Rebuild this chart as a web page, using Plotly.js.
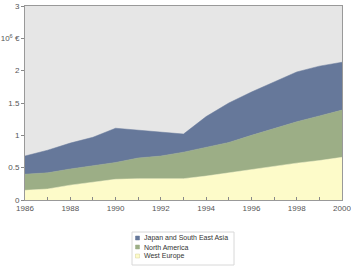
<!DOCTYPE html>
<html>
<head>
<meta charset="utf-8">
<script src="https://cdn.plot.ly/plotly-3.0.1.min.js"></script>
<style>
  html, body { margin: 0; padding: 0; background: #ffffff; }
  #chart { width: 351px; height: 267px; }
</style>
</head>
<body>
<div id="chart"></div>
<script>
// Market size by region, 1986-2000 (10^6 EUR), stacked
const years = [1986, 1987, 1988, 1989, 1990, 1991, 1992, 1993, 1994, 1995, 1996, 1997, 1998, 1999, 2000];
const westEurope   = [0.15, 0.17, 0.23, 0.27, 0.32, 0.33, 0.33, 0.33, 0.37, 0.42, 0.48, 0.52, 0.57, 0.61, 0.66];
const northAmerica = [0.25, 0.25, 0.25, 0.26, 0.26, 0.32, 0.35, 0.41, 0.44, 0.47, 0.52, 0.59, 0.64, 0.69, 0.73];
const japanSEAsia  = [0.28, 0.35, 0.40, 0.44, 0.53, 0.43, 0.37, 0.28, 0.48, 0.61, 0.67, 0.71, 0.77, 0.77, 0.74];

const seriesNames = ['West Europe', 'North America', 'Japan and South East Asia'];
const xTickText = ['1986', '', '1988', '', '1990', '', '1992', '', '1994', '', '1996', '', '1998', '', '2000'];
const yTickVals = [0, 0.5, 1, 1.5, 2, 2.5, 3];
const yTickText = ['0', '0.5', '1', '1.5', '2', '10<sup>6</sup> €', '3'];

const fills = ['#fdfbc9', '#9cae86', '#66789a'];
const data = [westEurope, northAmerica, japanSEAsia].map((vals, i) => ({
  x: years,
  y: vals,
  name: seriesNames[i],
  type: 'scatter',
  mode: 'lines',
  stackgroup: 'regions',
  fillcolor: fills[i],
  line: { color: fills[i], width: 0.5 },
  showlegend: false,
  hoverinfo: 'skip'
}));

// Compact key below the plot: a framed box with one swatch + label per series,
// listed top to bottom in the stacking order (top layer first).
const plotL = 25, plotR = 342, plotT = 6, plotB = 200;
const px = x => (x - plotL) / (plotR - plotL);
const py = y => (plotB - y) / (plotB - plotT);
const rowPx = [256, 247, 238]; // West Europe, North America, Japan/SE Asia
const shapes = [{
  type: 'rect', xref: 'paper', yref: 'paper',
  x0: px(132), x1: px(234), y0: py(265), y1: py(232),
  line: { color: '#d8d8d8', width: 1 }, fillcolor: '#ffffff'
}];
const annotations = [];
seriesNames.forEach((name, i) => {
  shapes.push({
    type: 'rect', xref: 'paper', yref: 'paper',
    x0: px(135.5), x1: px(139.5), y0: py(rowPx[i] + 2), y1: py(rowPx[i] - 2),
    line: { color: i === 0 ? '#d6d29a' : fills[i], width: 0.5 },
    fillcolor: fills[i]
  });
  annotations.push({
    xref: 'paper', yref: 'paper', x: px(142), y: py(rowPx[i]),
    xanchor: 'left', yanchor: 'middle', showarrow: false,
    text: name,
    font: { family: 'Liberation Sans, Arial, sans-serif', size: 7, color: '#333333' }
  });
});

const layout = {
  width: 351,
  height: 267,
  margin: { l: plotL, r: 351 - plotR, t: plotT, b: 267 - plotB },
  paper_bgcolor: '#ffffff',
  plot_bgcolor: '#e6e6e6',
  font: { family: 'Liberation Sans, Arial, sans-serif', size: 8, color: '#555555' },
  showlegend: false,
  shapes: shapes,
  annotations: annotations,
  xaxis: {
    range: [1986, 2000],
    tickmode: 'array',
    tickvals: years,
    ticktext: xTickText,
    ticks: 'inside',
    ticklen: 3,
    tickcolor: '#888888',
    ticklabeloverflow: 'allow',
    showgrid: false,
    zeroline: false,
    showline: true,
    linecolor: '#999999',
    linewidth: 1,
    mirror: true,
    tickfont: { size: 8, color: '#555555' }
  },
  yaxis: {
    range: [0, 3],
    tickmode: 'array',
    tickvals: yTickVals,
    ticktext: yTickText,
    ticks: 'outside',
    ticklen: 3,
    tickcolor: '#888888',
    showgrid: false,
    zeroline: false,
    showline: true,
    linecolor: '#999999',
    linewidth: 1,
    mirror: true,
    tickfont: { size: 8, color: '#555555' }
  }
};

Plotly.newPlot('chart', data, layout, { displayModeBar: false, staticPlot: true });
</script>
</body>
</html>
